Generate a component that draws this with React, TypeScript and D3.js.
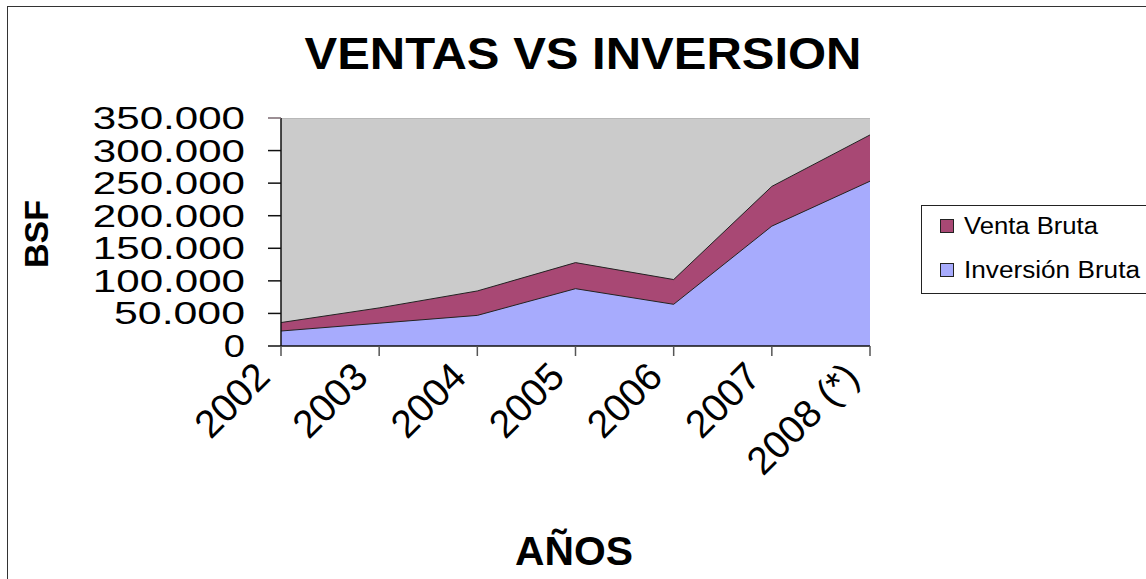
import {useEffect, useRef} from 'react';
import * as d3 from 'd3';

// data (BsF)
const years = ['2002', '2003', '2004', '2005', '2006', '2007', '2008 (*)'];
const inversionBruta = [23000, 35000, 47000, 88000, 64000, 184000, 253000];
const ventaBruta = [13000, 23500, 37500, 40000, 38000, 61000, 71000];
const yTicks = [0, 50000, 100000, 150000, 200000, 250000, 300000, 350000];
const legendLabels = ['Venta Bruta', 'Inversión Bruta'];

// parameters
const width = 1146;
const height = 579;
const plotLeft = 281;
const plotRight = 870;
const plotTop = 118;
const plotBottom = 346;
const font = '"Liberation Sans", Arial, sans-serif';
const colorVenta = '#a84874';
const colorInversion = '#a7abfd';

const fmt = d3.formatLocale({decimal: ',', thousands: '.', grouping: [3], currency: ['', '']}).format(',');

export default function App() {
  const ref = useRef(null);
  useEffect(() => {
    if (!ref.current)
      return;
    const svg = d3.select(ref.current);
    svg.selectAll('*').remove();

    // frame
    svg.append('rect').attr('width', width).attr('height', height).attr('fill', 'white');
    svg.append('rect')
      .attr('x', 7.5).attr('y', 6.5)
      .attr('width', width + 20).attr('height', height + 20)
      .attr('fill', 'white').attr('stroke', '#333').attr('stroke-width', 1);

    const x = d3.scalePoint().domain(years).range([plotLeft, plotRight]);
    const y = d3.scaleLinear().domain([0, 350000]).range([plotBottom, plotTop]);

    // plot area
    svg.append('rect')
      .attr('x', plotLeft).attr('y', plotTop)
      .attr('width', plotRight - plotLeft).attr('height', plotBottom - plotTop)
      .attr('fill', '#cbcbcb');
    svg.append('line')
      .attr('x1', plotLeft).attr('x2', plotRight).attr('y1', plotTop + 0.5).attr('y2', plotTop + 0.5)
      .attr('stroke', '#b8b8b8');

    // stacked areas
    const rows = years.map((yr, i) => ({year: yr, inversion: inversionBruta[i], venta: ventaBruta[i]}));
    const series = d3.stack().keys(['inversion', 'venta'])(rows as any);
    const colors: {[k: string]: string} = {inversion: colorInversion, venta: colorVenta};
    const area = d3.area<any>()
      .x(d => x(d.data.year) as number)
      .y0(d => y(d[0]))
      .y1(d => y(d[1]));
    const topLine = d3.line<any>()
      .x(d => x(d.data.year) as number)
      .y(d => y(d[1]));
    series.forEach(s => {
      svg.append('path').attr('d', area(s as any)).attr('fill', colors[s.key]);
    });
    series.forEach(s => {
      svg.append('path').attr('d', topLine(s as any))
        .attr('fill', 'none').attr('stroke', '#222').attr('stroke-width', 1);
    });

    // y axis
    svg.append('line')
      .attr('x1', plotLeft).attr('x2', plotLeft).attr('y1', plotTop).attr('y2', plotBottom)
      .attr('stroke', '#111').attr('stroke-width', 1.5);
    yTicks.forEach(t => {
      svg.append('line')
        .attr('x1', plotLeft - 13).attr('x2', plotLeft).attr('y1', y(t)).attr('y2', y(t))
        .attr('stroke', t === 350000 ? '#7a6870' : '#111').attr('stroke-width', 1.5);
      const label = fmt(t);
      const digits = label.replace('.', '').length;
      const len = digits * 21.2 + (label.includes('.') ? 25 : 0);
      svg.append('text')
        .attr('x', 245).attr('y', y(t) + 11)
        .attr('text-anchor', 'end')
        .attr('font-family', font).attr('font-size', 32)
        .attr('textLength', len).attr('lengthAdjust', 'spacingAndGlyphs')
        .attr('fill', '#000')
        .text(label);
    });

    // x axis
    svg.append('line')
      .attr('x1', plotLeft).attr('x2', plotRight).attr('y1', plotBottom).attr('y2', plotBottom)
      .attr('stroke', '#111').attr('stroke-width', 1.5);
    years.forEach(yr => {
      const px = x(yr) as number;
      svg.append('line')
        .attr('x1', px).attr('x2', px).attr('y1', plotBottom).attr('y2', plotBottom + 10)
        .attr('stroke', '#555').attr('stroke-width', 1.5);
      svg.append('text')
        .attr('transform', `translate(${px - 9},${plotBottom + 33}) rotate(-45)`)
        .attr('text-anchor', 'end')
        .attr('font-family', font).attr('font-size', 39)
        .attr('fill', '#000')
        .text(yr);
    });

    // titles
    svg.append('text')
      .attr('x', 583).attr('y', 69)
      .attr('text-anchor', 'middle')
      .attr('font-family', font).attr('font-size', 44).attr('font-weight', 'bold')
      .attr('textLength', 557).attr('lengthAdjust', 'spacingAndGlyphs')
      .text('VENTAS VS INVERSION');
    svg.append('text')
      .attr('transform', 'translate(48,234) rotate(-90)')
      .attr('text-anchor', 'middle')
      .attr('font-family', font).attr('font-size', 33).attr('font-weight', 'bold')
      .attr('textLength', 68).attr('lengthAdjust', 'spacingAndGlyphs')
      .text('BSF');
    svg.append('text')
      .attr('x', 574).attr('y', 565)
      .attr('text-anchor', 'middle')
      .attr('font-family', font).attr('font-size', 40).attr('font-weight', 'bold')
      .attr('textLength', 118).attr('lengthAdjust', 'spacingAndGlyphs')
      .text('AÑOS');

    // legend
    svg.append('rect')
      .attr('x', 921.5).attr('y', 205.5).attr('width', 240).attr('height', 88)
      .attr('fill', 'white').attr('stroke', '#222').attr('stroke-width', 1);
    const legendColors = [colorVenta, colorInversion];
    const legendLens = [134, 176];
    legendLabels.forEach((lab, i) => {
      const cy = 226 + i * 44;
      svg.append('rect')
        .attr('x', 940.5).attr('y', cy - 6.5).attr('width', 13).attr('height', 13)
        .attr('fill', legendColors[i]).attr('stroke', '#222').attr('stroke-width', 1);
      svg.append('text')
        .attr('x', 964).attr('y', cy + 8)
        .attr('font-family', font).attr('font-size', 23)
        .attr('textLength', legendLens[i]).attr('lengthAdjust', 'spacingAndGlyphs')
        .text(lab);
    });
  }, [ref]);
  return <svg
    ref={ref}
    width={width}
    height={height}
    style={{position: 'absolute', left: 0, top: 0}}
  />;
}
